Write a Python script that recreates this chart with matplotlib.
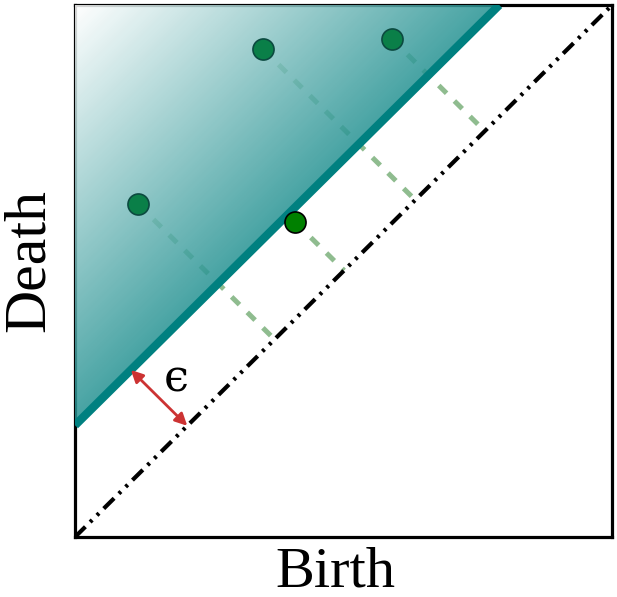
import matplotlib
matplotlib.use("Agg")
import matplotlib.pyplot as plt
import numpy as np
from matplotlib.colors import LinearSegmentedColormap
from matplotlib.patches import Polygon

# persistence diagram points (birth, death)
birth = [0.117, 0.350, 0.590]
death = [0.626, 0.917, 0.936]
# point sitting on the epsilon band edge
edge_birth = [0.410]
edge_death = [0.592]
eps = 0.21

plt.rcParams['font.family'] = ['Liberation Serif', 'DejaVu Serif']

fig = plt.figure(figsize=(6.17, 5.97), dpi=100)
ax = fig.add_axes([0.1216, 0.1005, 0.8704, 0.8911])
ax.set_xlim(0, 1)
ax.set_ylim(0, 1)

# dashed projections onto the diagonal
all_b = birth + edge_birth
all_d = death + edge_death
for b, d in zip(all_b, all_d):
    m = (b + d) / 2
    ax.plot([b, m], [d, m], ls=(0, (2.2, 2.2)), color='#8fbc8f', lw=3.6,
            zorder=1, solid_capstyle='butt', dash_capstyle='butt')

# gradient triangle over the dashes
cmap = LinearSegmentedColormap.from_list('tw', ['#ffffff', '#008080'])
xx, yy = np.meshgrid(np.linspace(0, 1, 300), np.linspace(0, 1, 300))
grad = xx + (1 - yy)
im = ax.imshow(grad, extent=[0, 1, 0, 1], origin='lower', cmap=cmap,
               vmin=0, vmax=0.92, alpha=0.85, zorder=3, aspect='auto')
tri = Polygon([[0, 1], [1 - eps, 1], [0, eps]], closed=True,
              transform=ax.transData, facecolor='none', edgecolor='none')
ax.add_patch(tri)
im.set_clip_path(tri)

ax.scatter(birth, death, s=230, color='#0a7f48', edgecolor='#0b4a40',
           lw=1.2, zorder=3.5)

ax.plot([0, 1 - eps], [eps, 1], color='#008080', lw=6, zorder=4,
        solid_capstyle='butt')

ax.plot([0, 1], [0, 1], color='black', lw=3,
        ls=(0, (3.5, 1.6, 0.7, 1.6, 0.7, 1.6)), zorder=4)

ax.scatter(edge_birth, edge_death, s=230, color='#008000', edgecolor='black',
           lw=1.2, zorder=5)

# epsilon arrow
ax.annotate('', xy=(0.104, 0.314), xytext=(0.209, 0.209),
            arrowprops=dict(arrowstyle='<|-|>', color='#cc3333', lw=2,
                            mutation_scale=18, shrinkA=0, shrinkB=0),
            zorder=6)
ax.text(0.188, 0.298, '\u03f5', fontsize=32, ha='center', va='center',
        family=['DejaVu Serif'])

for sp in ax.spines.values():
    sp.set_linewidth(2.3)
ax.set_xticks([])
ax.set_yticks([])
ax.set_xlabel('Birth', fontsize=42, va='baseline')
ax.set_ylabel('Death', fontsize=43, va='center')
ax.xaxis.set_label_coords(0.485, -0.093)
ax.yaxis.set_label_coords(-0.084, 0.52)

fig.savefig('out.png', dpi=100)
